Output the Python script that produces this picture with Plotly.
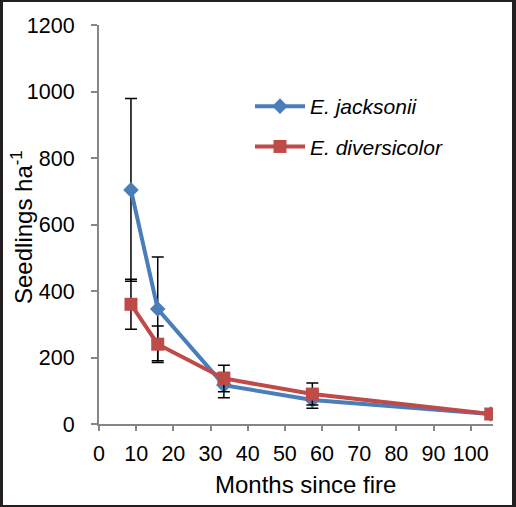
import plotly.graph_objects as go

months = [8.6, 15.8, 33.6, 57.4, 105.4]
jack = [704, 346, 117, 72, 30]
jack_err = [275, 156, 38, 25, 0]
div = [360, 240, 137, 90, 30]
div_err = [75, 55, 40, 33, 0]

x_ticks = [0, 10, 20, 30, 40, 50, 60, 70, 80, 90, 100]
y_ticks = [0, 200, 400, 600, 800, 1000, 1200]

BLUE = "#4A7EBB"
RED = "#BE4B48"
AXIS = "#868686"
FRAME = "#231F20"
FONT = "Liberation Sans, Arial, sans-serif"

W, H = 516, 507
L, R, T, B = 99, 23, 25, 83
PW, PH = W - L - R, H - T - B


def fx(px):
    return (px - L) / PW


def fy(py):
    return (H - B - py) / PH


fig = go.Figure()
fig.add_trace(go.Scatter(
    x=months, y=jack, name="<i>E. jacksonii</i>", mode="lines+markers",
    legendgroup="a",
    line=dict(color=BLUE, width=4),
    marker=dict(symbol="diamond", size=12, color=BLUE),
    error_y=dict(type="data", array=jack_err, color="black", thickness=1.5, width=6),
))
fig.add_trace(go.Scatter(
    x=months, y=div, name="<i>E. diversicolor</i>", mode="lines+markers",
    legendgroup="b",
    line=dict(color=RED, width=4),
    marker=dict(symbol="square", size=13, color=RED),
    error_y=dict(type="data", array=div_err, color="black", thickness=1.5, width=6),
))

shapes = []
for x0, x1, y0, y1 in [(0, 3, 0, H), (W - 4, W, 0, H), (0, W, 0, 2), (0, W, H - 2, H)]:
    shapes.append(dict(type="rect", xref="paper", yref="paper",
                       x0=fx(x0), x1=fx(x1), y0=fy(y1), y1=fy(y0),
                       fillcolor=FRAME, line=dict(width=0), layer="above"))

fig.update_layout(
    width=W, height=H,
    margin=dict(l=L, r=R, t=T, b=B, autoexpand=False),
    paper_bgcolor="white", plot_bgcolor="white",
    font=dict(family=FONT, size=21, color="black"),
    showlegend=True,
    legend=dict(x=fx(250), y=fy(86), xanchor="left", yanchor="top",
                font=dict(size=21), tracegroupgap=10, traceorder="grouped",
                bgcolor="rgba(0,0,0,0)", itemwidth=50),
    shapes=shapes,
    annotations=[
        dict(text="Months since fire", xref="paper", yref="paper",
             x=fx(305), y=fy(484), xanchor="center", yanchor="middle",
             showarrow=False, font=dict(size=24)),
        dict(text="Seedlings ha<sup>-1</sup>", xref="paper", yref="paper",
             x=fx(22), y=fy(227), xanchor="center", yanchor="middle",
             textangle=-90, showarrow=False, font=dict(size=24)),
    ],
)

fig.update_xaxes(
    range=[0, 106], tickvals=x_ticks, ticks="outside", ticklen=5, tickwidth=2,
    tickcolor=AXIS, showline=True, linecolor=AXIS, linewidth=2,
    showgrid=False, zeroline=False, automargin=False,
    tickfont=dict(size=21.5), ticklabelstandoff=4,
)
fig.update_yaxes(
    range=[0, 1200], tickvals=y_ticks, ticks="outside", ticklen=6, tickwidth=2,
    tickcolor=AXIS, showline=True, linecolor=AXIS, linewidth=2,
    showgrid=False, zeroline=False, automargin=False,
    tickfont=dict(size=21.5), ticklabelstandoff=12,
)

fig.write_html(
    "out.html",
    config={"displayModeBar": False},
    post_script="document.body.style.margin='0';document.body.style.overflow='hidden';",
)
